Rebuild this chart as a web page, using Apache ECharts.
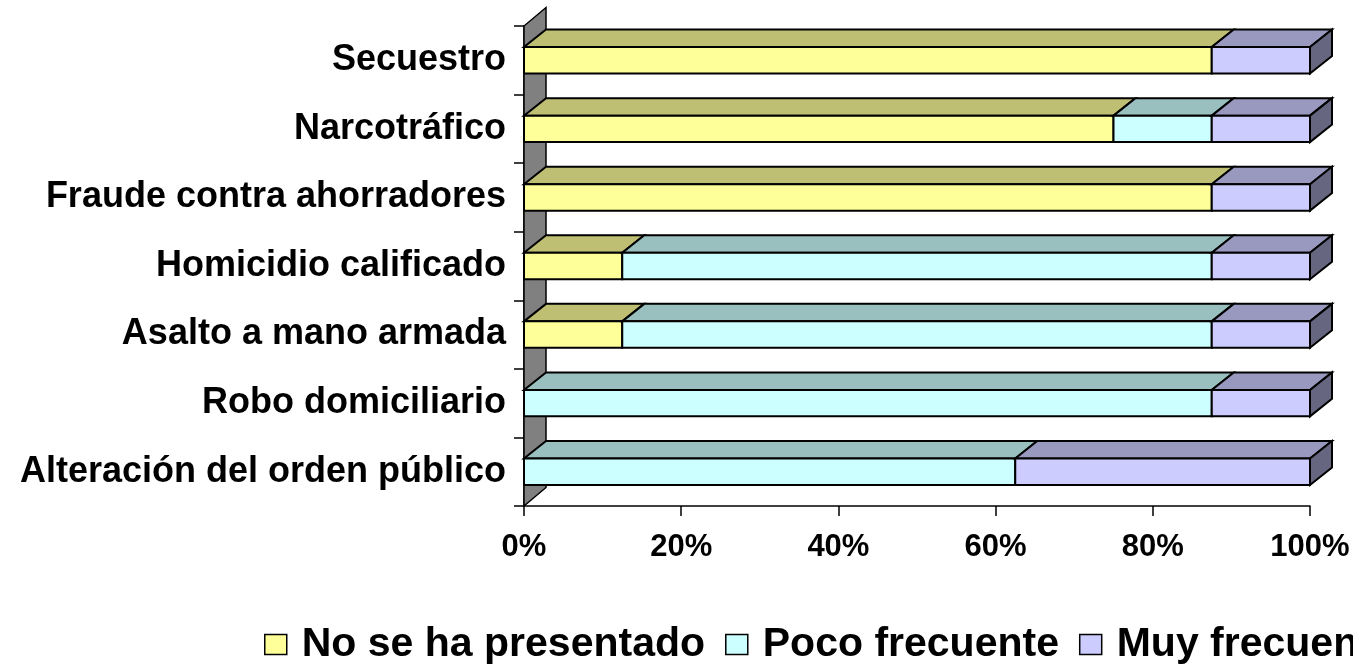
<!DOCTYPE html>
<html>
<head>
<meta charset="utf-8">
<script src="https://cdn.jsdelivr.net/npm/echarts@6/dist/echarts.min.js"></script>
<style>
  html, body { margin: 0; padding: 0; background: #fff; }
  #chart { width: 1353px; height: 671px; }
</style>
</head>
<body>
<div id="chart"></div>
<script>
// Crime categories, listed top to bottom
const categories = [
  'Secuestro',
  'Narcotráfico',
  'Fraude contra ahorradores',
  'Homicidio calificado',
  'Asalto a mano armada',
  'Robo domiciliario',
  'Alteración del orden público'
];

// Share of answers (%) per category
const noSeHaPresentado = [87.5, 75, 87.5, 12.5, 12.5, 0, 0];
const pocoFrecuente    = [0, 12.5, 0, 75, 75, 87.5, 62.5];
const muyFrecuente     = [12.5, 12.5, 12.5, 12.5, 12.5, 12.5, 37.5];

const seriesNames = ['No se ha presentado', 'Poco frecuente', 'Muy frecuente'];
const seriesValues = [noSeHaPresentado, pocoFrecuente, muyFrecuente];

// Face colours for each series: front, top, side
const faceColors = [
  { front: '#FFFF99', top: '#BFBF73', side: '#80804D' },
  { front: '#CCFFFF', top: '#99BFBF', side: '#668080' },
  { front: '#CCCCFF', top: '#9999BF', side: '#666680' }
];

const xTicks = [0, 20, 40, 60, 80, 100];

// Oblique projection of the bar depth
const DEPTH_X = 22;
const DEPTH_Y = 17.5;
const LINE = '#000';
const LINE_W = 2;
const FONT = 'Liberation Sans, Arial, sans-serif';

// Running totals so every segment knows where it starts and ends
const stacked = seriesValues.map(() => []);
categories.forEach((c, i) => {
  let acc = 0;
  seriesValues.forEach((vals, s) => {
    stacked[s].push([acc, acc + vals[i], i]);
    acc += vals[i];
  });
});
const totals = categories.map((c, i) => seriesValues.reduce((a, v) => a + v[i], 0));

function boxRenderer(colors) {
  return function (params, api) {
    const start = api.value(0);
    const end = api.value(1);
    const cat = api.value(2);
    if (end - start <= 0) return null;
    const a = api.coord([start, cat]);
    const b = api.coord([end, cat]);
    const band = api.size([0, 1])[1];
    const h = band * 0.385;
    const x0 = a[0], x1 = b[0];
    const yT = a[1] - h / 2, yB = a[1] + h / 2;
    const children = [
      {
        type: 'polygon',
        shape: { points: [[x0, yT], [x1, yT], [x1 + DEPTH_X, yT - DEPTH_Y], [x0 + DEPTH_X, yT - DEPTH_Y]] },
        style: { fill: colors.top, stroke: LINE, lineWidth: LINE_W, lineJoin: 'miter' }
      },
      {
        type: 'rect',
        shape: { x: x0, y: yT, width: x1 - x0, height: yB - yT },
        style: { fill: colors.front, stroke: LINE, lineWidth: LINE_W }
      }
    ];
    if (end >= totals[cat] - 1e-9) {
      children.push({
        type: 'polygon',
        shape: { points: [[x1, yT], [x1 + DEPTH_X, yT - DEPTH_Y], [x1 + DEPTH_X, yB - DEPTH_Y], [x1, yB]] },
        style: { fill: colors.side, stroke: LINE, lineWidth: LINE_W, lineJoin: 'miter' }
      });
    }
    return { type: 'group', children: children };
  };
}

// Grey side wall behind the category axis
function wallRenderer(params, api) {
  const cs = params.coordSys;
  const x = cs.x, y = cs.y, hgt = cs.height;
  return {
    type: 'polygon',
    shape: {
      points: [[x, y + hgt], [x + DEPTH_X, y + hgt - DEPTH_Y - 1], [x + DEPTH_X, y - DEPTH_Y - 1], [x, y]]
    },
    style: { fill: '#808080', stroke: LINE, lineWidth: 1.5 }
  };
}

const chart = echarts.init(document.getElementById('chart'), null, { renderer: 'canvas' });

const series = [
  {
    type: 'custom',
    name: 'wall',
    data: [[0]],
    renderItem: wallRenderer,
    silent: true,
    z: 1
  }
].concat(seriesNames.map((name, s) => ({
  type: 'custom',
  name: name,
  data: stacked[s],
  encode: { x: [0, 1], y: 2 },
  renderItem: boxRenderer(faceColors[s]),
  itemStyle: { color: faceColors[s].front },
  clip: false,
  z: 2 + s
})));

chart.setOption({
  animation: false,
  backgroundColor: '#ffffff',
  grid: { left: 524, right: 43, top: 26, bottom: 165, containLabel: false },
  xAxis: {
    type: 'value',
    min: 0,
    max: 100,
    interval: 20,
    axisLine: { show: true, lineStyle: { color: '#000', width: 1.5 } },
    axisTick: { show: true, length: 10, lineStyle: { color: '#000', width: 1.5 } },
    splitLine: { show: false },
    axisLabel: {
      margin: 26,
      color: '#000',
      fontFamily: FONT,
      fontWeight: 'bold',
      fontSize: 31,
      formatter: v => (xTicks.indexOf(v) >= 0 ? v + '%' : '')
    }
  },
  yAxis: {
    type: 'category',
    data: categories,
    inverse: true,
    axisLine: { show: true, lineStyle: { color: '#000', width: 1.5 } },
    axisTick: { show: true, length: 10, lineStyle: { color: '#000', width: 1.5 } },
    axisLabel: {
      margin: 18,
      color: '#000',
      fontFamily: FONT,
      fontWeight: 'bold',
      fontSize: 36,
      padding: [6, 0, 0, 0]
    }
  },
  legend: {
    data: seriesNames,
    left: 259,
    top: 619,
    width: 3000,
    orient: 'horizontal',
    icon: 'rect',
    itemWidth: 22,
    itemHeight: 20,
    itemGap: 20,
    itemStyle: { borderColor: '#000', borderWidth: 1.5 },
    textStyle: {
      color: '#000',
      fontFamily: FONT,
      fontWeight: 'bold',
      fontSize: 41,
      padding: [0, 0, 0, 10]
    }
  },
  series: series
});
</script>
</body>
</html>
